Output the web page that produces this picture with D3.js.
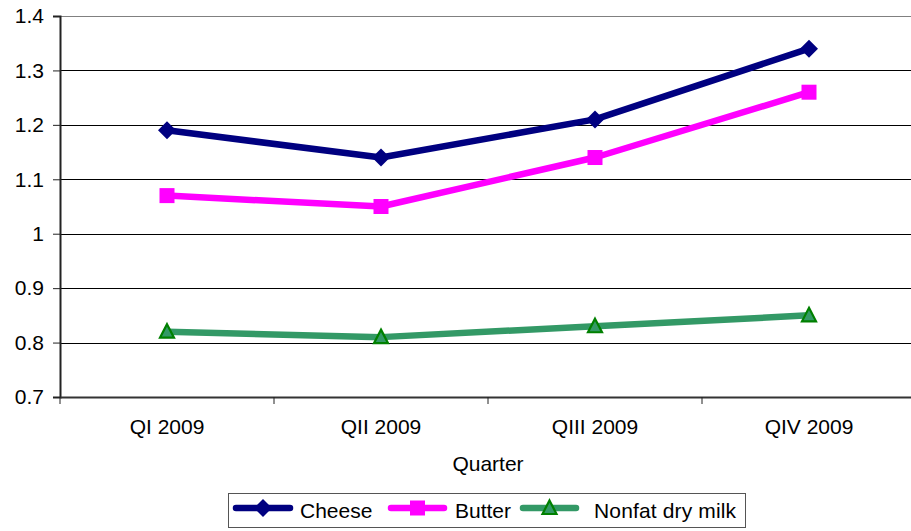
<!DOCTYPE html>
<html>
<head>
<meta charset="utf-8">
<script src="https://cdn.jsdelivr.net/npm/d3@7"></script>
<style>
  html, body { margin: 0; padding: 0; background: #fff; }
  svg { display: block; font-family: "Liberation Sans", Arial, sans-serif; }
</style>
</head>
<body>
<svg id="chart" width="911" height="531"></svg>
<script>
// Quarterly price series
const quarters = ["QI 2009", "QII 2009", "QIII 2009", "QIV 2009"];
const cheese = [1.19, 1.14, 1.21, 1.34];
const butter = [1.07, 1.05, 1.14, 1.26];
const nonfat = [0.82, 0.81, 0.83, 0.85];
const yTicks = [0.7, 0.8, 0.9, 1, 1.1, 1.2, 1.3, 1.4];

const series = [
  { name: "Cheese", values: cheese, line: "#000080", fill: "#000080", stroke: "#000080", shape: "diamond" },
  { name: "Butter", values: butter, line: "#FF00FF", fill: "#FF00FF", stroke: "#FF00FF", shape: "square" },
  { name: "Nonfat dry milk", values: nonfat, line: "#339966", fill: "#339966", stroke: "#008000", shape: "triangle" }
];

const FONT = "'Liberation Sans', Arial, sans-serif";
const FS = 21;

const svg = d3.select("#chart");
const plotLeft = 60, plotTop = 16, plotBottom = 397, plotRight = 916;

const x = d3.scaleBand().domain(quarters).range([plotLeft, plotRight]);
const y = d3.scaleLinear().domain([0.7, 1.4]).range([plotBottom, plotTop]);

// horizontal gridlines
svg.append("g").selectAll("line").data(yTicks.slice(1)).join("line")
  .attr("x1", plotLeft).attr("x2", plotRight)
  .attr("y1", d => Math.round(y(d)) + 0.5).attr("y2", d => Math.round(y(d)) + 0.5)
  .attr("stroke", (d, i, a) => i === a.length - 1 ? "#808080" : "#000")
  .attr("stroke-width", 1);

// y axis
const yAxis = svg.append("g").attr("transform", `translate(${plotLeft},0)`)
  .call(d3.axisLeft(y).tickValues(yTicks).tickSize(7).tickFormat(d => String(+d.toFixed(1))));
yAxis.select(".domain").attr("stroke", "#222").attr("stroke-width", 2);
yAxis.selectAll(".tick line").attr("stroke", "#222");
yAxis.selectAll(".tick text").attr("font-size", FS).attr("fill", "#000").attr("x", -16)
  .attr("font-family", FONT);

// x axis
const xAxis = svg.append("g").attr("transform", `translate(0,${plotBottom})`)
  .call(d3.axisBottom(x).tickSize(0).tickSizeOuter(0));
xAxis.select(".domain").attr("stroke", "#333").attr("stroke-width", 2);
xAxis.selectAll(".tick text").attr("font-size", FS).attr("fill", "#000").attr("dy", 0).attr("y", 37)
  .attr("font-family", FONT);
// category boundary ticks
svg.append("g").selectAll("line").data(quarters).join("line")
  .attr("x1", d => x(d)).attr("x2", d => x(d))
  .attr("y1", plotBottom).attr("y2", plotBottom + 7)
  .attr("stroke", "#222").attr("stroke-width", 1);

svg.append("text").attr("x", 488).attr("y", 471)
  .attr("text-anchor", "middle").attr("font-size", FS).text("Quarter");

const cx = d => x(d) + x.bandwidth() / 2;

function marker(g, shape, fill, stroke) {
  if (shape === "diamond") {
    g.append("path").attr("d", "M0,-9L9,0L0,9L-9,0Z").attr("fill", fill);
  } else if (shape === "square") {
    g.append("rect").attr("x", -7.5).attr("y", -7.5).attr("width", 15).attr("height", 15).attr("fill", fill);
  } else {
    g.append("path").attr("d", "M0,-7.5L7,6L-7,6Z")
      .attr("fill", fill).attr("stroke", stroke).attr("stroke-width", 2.2).attr("stroke-linejoin", "miter");
  }
}

const line = d3.line().x((d, i) => cx(quarters[i])).y(d => y(d));

series.forEach(s => {
  svg.append("path").datum(s.values).attr("d", line)
    .attr("fill", "none").attr("stroke", s.line).attr("stroke-width", 6.5)
    .attr("stroke-linejoin", "round");
  s.values.forEach((v, i) => {
    const g = svg.append("g").attr("transform", `translate(${cx(quarters[i])},${y(v)})`);
    marker(g, s.shape, s.fill, s.stroke);
  });
});

// legend
const lg = svg.append("g");
lg.append("rect").attr("x", 228.5).attr("y", 493.5).attr("width", 517).attr("height", 34)
  .attr("fill", "#fff").attr("stroke", "#555").attr("stroke-width", 1);
const lineX = [[236, 290], [391, 444], [523, 576]];
const textX = [300, 455, 594];
series.forEach((s, i) => {
  const ly = 508;
  lg.append("line").attr("x1", lineX[i][0]).attr("x2", lineX[i][1])
    .attr("y1", ly).attr("y2", ly).attr("stroke", s.line).attr("stroke-width", 6.5)
    .attr("stroke-linecap", "round");
  const g = lg.append("g").attr("transform", `translate(${(lineX[i][0] + lineX[i][1]) / 2},${ly})`);
  marker(g, s.shape, s.fill, s.stroke);
  lg.append("text").attr("x", textX[i]).attr("y", 518).attr("font-size", FS)
    .attr("textLength", i === 2 ? 142 : null).text(s.name);
});
</script>
</body>
</html>
